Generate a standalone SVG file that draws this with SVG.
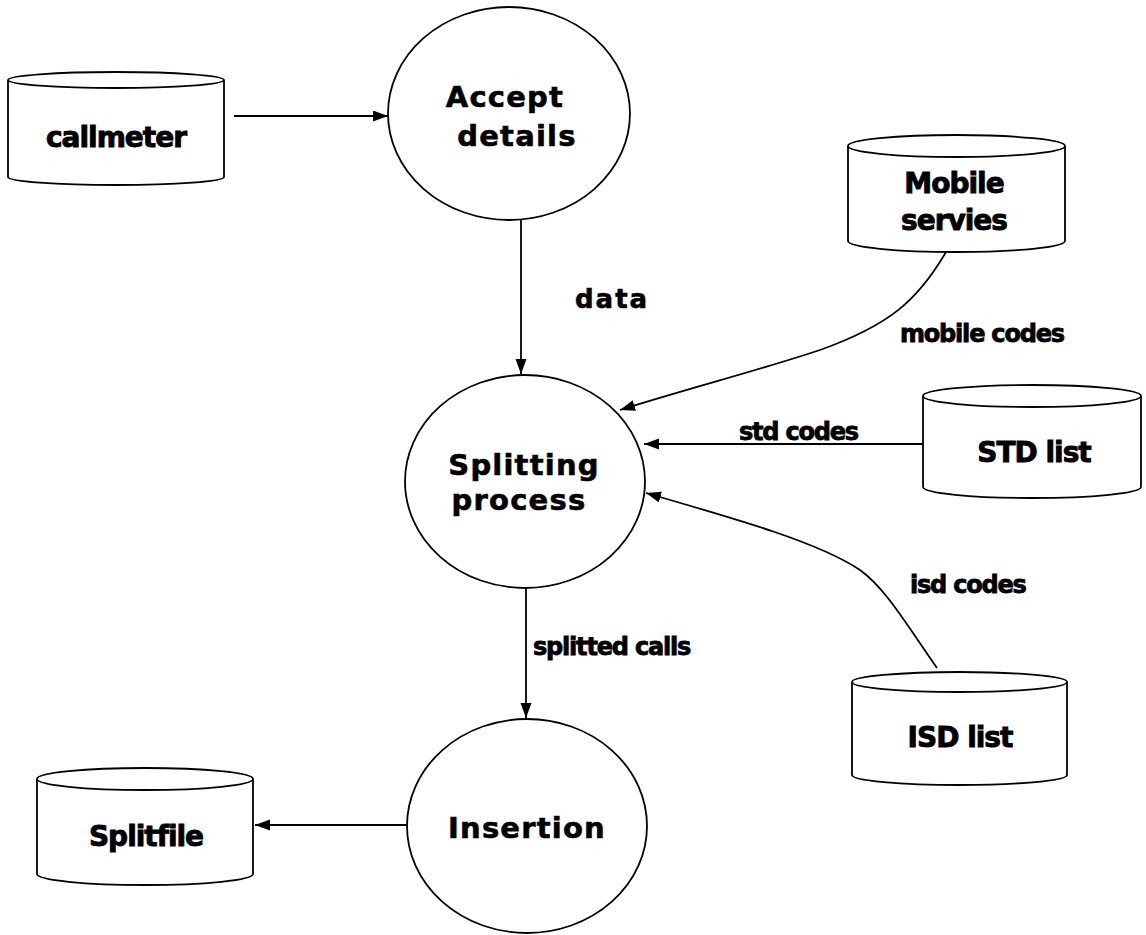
<svg xmlns="http://www.w3.org/2000/svg" width="1146" height="935" viewBox="0 0 1146 935">
  <defs>
    <marker id="arrow" markerUnits="userSpaceOnUse" markerWidth="16" markerHeight="12" refX="15" refY="5.5" orient="auto">
      <path d="M0,0 L15,5.5 L0,11 z" fill="#000"/>
    </marker>
    <style>
      .shape { fill: #fff; stroke: #000; stroke-width: 1.8; }
      .edge { fill: none; stroke: #000; stroke-width: 1.8; marker-end: url(#arrow); }
      .proc { font-family: "DejaVu Sans", Verdana, sans-serif; font-weight: bold; font-size: 29px; letter-spacing: 1.2px; text-anchor: middle; fill: #000; stroke: #000; stroke-width: 0.6px; }
      .store { font-family: "DejaVu Sans", Tahoma, sans-serif; font-weight: bold; font-size: 28px; letter-spacing: -1px; text-anchor: middle; fill: #000; stroke: #000; stroke-width: 0.9px; }
      .flow { font-family: "DejaVu Sans", Tahoma, sans-serif; font-weight: bold; font-size: 24px; letter-spacing: -1.2px; fill: #000; stroke: #000; stroke-width: 0.8px; }
      .flowwide { font-family: "DejaVu Sans", Verdana, sans-serif; font-weight: bold; font-size: 26px; letter-spacing: 2px; fill: #000; stroke: #000; stroke-width: 0.6px; }
    </style>
  </defs>

  <rect width="1146" height="935" fill="#fff"/>

  <!-- data flows -->
  <g id="connectors">
    <path class="edge" d="M234,116 L388,116"/>
    <path class="edge" d="M521,220 L521,374"/>
    <path class="edge" d="M946,252 C918,300 890,325 820,350 C760,370 690,388 620,410"/>
    <path class="edge" d="M923,444 L644,444"/>
    <path class="edge" d="M937,668 C905,622 885,588 860,570 C820,543 740,520 646,493"/>
    <path class="edge" d="M526,588 L526,718"/>
    <path class="edge" d="M407,825 L255,825"/>
    <text class="flowwide" x="575" y="308">data</text>
    <text class="flow" x="900" y="342">mobile codes</text>
    <text class="flow" x="739" y="440">std codes</text>
    <text class="flow" x="910" y="593">isd codes</text>
    <text class="flow" x="533" y="655">splitted calls</text>
  </g>

  <!-- data stores -->
  <g id="callmeter">
    <path class="shape" d="M8,80 L8,177 A108,8 0 0 0 224,177 L224,80"/>
    <ellipse class="shape" cx="116" cy="80" rx="108" ry="8"/>
    <text class="store" x="116" y="147">callmeter</text>
  </g>

  <g id="mobile-servies">
    <path class="shape" d="M848,146 L848,241 A108.5,11 0 0 0 1065,241 L1065,146"/>
    <ellipse class="shape" cx="956.5" cy="146" rx="108.5" ry="11"/>
    <text class="store" x="954" y="193">Mobile</text>
    <text class="store" x="954" y="230">servies</text>
  </g>

  <g id="std-list">
    <path class="shape" d="M923,396 L923,487 A109,11 0 0 0 1141,487 L1141,396"/>
    <ellipse class="shape" cx="1032" cy="396" rx="109" ry="11"/>
    <text class="store" x="1034" y="462">STD list</text>
  </g>

  <g id="isd-list">
    <path class="shape" d="M852,682 L852,775 A107.5,10 0 0 0 1067,775 L1067,682"/>
    <ellipse class="shape" cx="959.5" cy="682" rx="107.5" ry="10"/>
    <text class="store" x="960" y="747">ISD list</text>
  </g>

  <g id="splitfile">
    <path class="shape" d="M37,779 L37,874 A108,11 0 0 0 253,874 L253,779"/>
    <ellipse class="shape" cx="145" cy="779" rx="108" ry="11"/>
    <text class="store" x="146" y="846">Splitfile</text>
  </g>

  <!-- processes -->
  <g id="accept-details">
    <ellipse class="shape" cx="509" cy="113.5" rx="121" ry="106.5"/>
    <text class="proc" x="505" y="107">Accept</text>
    <text class="proc" x="517" y="146">details</text>
  </g>

  <g id="splitting-process">
    <ellipse class="shape" cx="525" cy="481.5" rx="120" ry="106.5"/>
    <text class="proc" x="524" y="475">Splitting</text>
    <text class="proc" x="519" y="510">process</text>
  </g>

  <g id="insertion">
    <ellipse class="shape" cx="527" cy="826" rx="120" ry="107"/>
    <text class="proc" x="527" y="838">Insertion</text>
  </g>
</svg>
